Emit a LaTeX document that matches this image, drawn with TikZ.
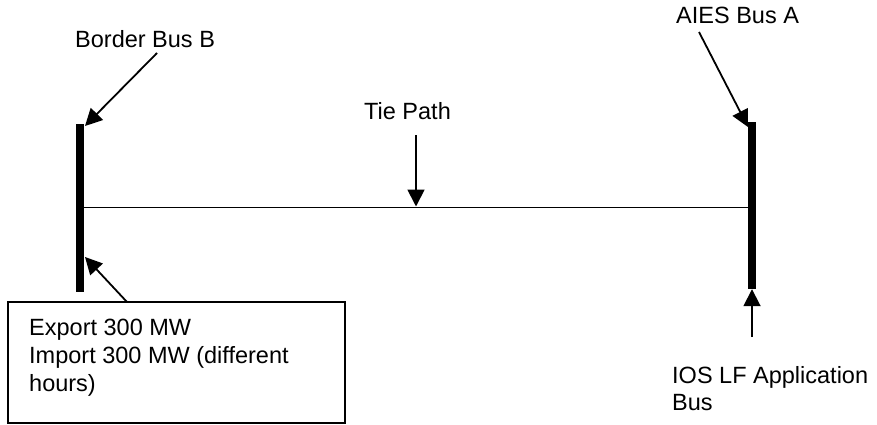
\documentclass[tikz,border=0pt]{standalone}
\usepackage{fontspec}
\setmainfont{Liberation Sans}
\usetikzlibrary{arrows.meta}
\begin{document}
\begin{tikzpicture}[x=1pt,y=-1pt,
  lbl/.style={anchor=base west,inner sep=0pt,font=\fontsize{23.5}{28}\selectfont},
  busbar/.style={fill=black,draw=none,inner sep=0pt,minimum width=8pt},
  ptr/.style={line width=1.8pt,-{Triangle[length=17pt,width=17pt]}},
  wire/.style={line width=1.8pt}]
\useasboundingbox (0,0) rectangle (877,425);
% bus bars
\node[busbar,minimum height=168pt] (busB) at (80,208) {};
\node[busbar,minimum height=167pt] (busA) at (752,205.5) {};
% tie line
\draw[wire] (busB.east |- 0,207.5) coordinate (tl) -- (busA.west |- 0,207.5) coordinate (tr);
\coordinate (tiemid) at (416,206.5);
% labels
\node[lbl] (lblB) at (75,48) {Border Bus B};
\node[lbl] (lblA) at (676,24) {AIES Bus A};
\node[lbl] (lblT) at (364,119) {Tie Path};
\node[lbl] (lblI1) at (672,383) {IOS LF Application};
\node[lbl] (lblI2) at (672,410) {Bus};
% box
\node[draw,line width=1.8pt,minimum width=337pt,minimum height=121pt,inner sep=0pt] (box) at (176.5,362.5) {};
\node[lbl] (e1) at (29,335) {Export 300 MW};
\node[lbl] (e2) at (29,363) {Import 300 MW (different};
\node[lbl] (e3) at (29,391) {hours)};
% pointers
\coordinate (bstart) at (157,53);
\coordinate (btip) at (85,126);
\draw[ptr] (bstart) -- (btip);
\coordinate (astart) at (699,32);
\coordinate (atip) at (748,127);
\draw[ptr] (astart) -- (atip);
\coordinate (tstart) at (416,135);
\draw[ptr] (tstart) -- (tiemid);
\coordinate (istart) at (752,337);
\draw[ptr] (istart) -- (busA.south);
\coordinate (xstart) at (127,302);
\coordinate (xtip) at (85,257);
\draw[ptr] (xstart) -- (xtip);
\end{tikzpicture}
\end{document}
